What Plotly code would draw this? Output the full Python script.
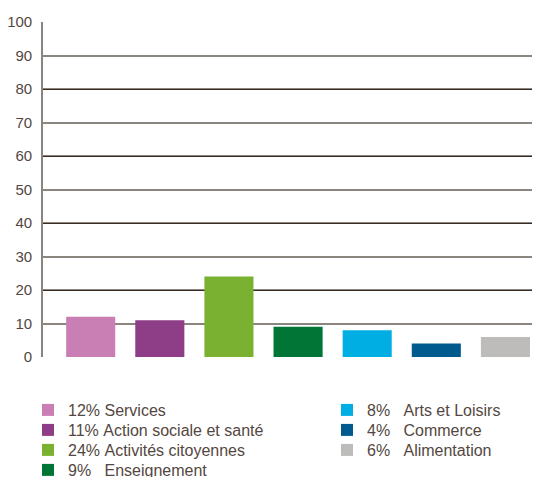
import plotly.graph_objects as go

categories = ["Services", "Action sociale et santé", "Activités citoyennes", "Enseignement",
              "Arts et Loisirs", "Commerce", "Alimentation"]
values = [12, 11, 24, 9, 8, 4, 6]
colors = ["#c97fb3", "#8e3d87", "#7ab131", "#007535", "#00aee4", "#005a8e", "#bdbcbb"]
y_ticks = list(range(0, 101, 10))

# the page body has an 8px default margin, so the figure is drawn 8px smaller
OFF = 8
W, H = 540 - OFF, 477 - OFF
NB = "\u00a0"
TEXT = "#54473f"

# legend layout: column (0 left, 1 right) and row of each entry
leg_col = [0, 0, 0, 0, 1, 1, 1]
leg_row = [0, 1, 2, 3, 0, 1, 2]
col_px = [28 - OFF, 327 - OFF]                  # legend box left (px)
row_px = [r - OFF for r in (410, 430, 450, 470)]  # row centres (px)


def label(v, name, col):
    pct = f"{v}%"
    if col == 0:
        gap = 1 if len(pct) == 3 else 3
    else:
        gap = 3
    return pct + NB * gap + name


legend_font = dict(family="Liberation Sans, Arial, sans-serif", size=16, color=TEXT)
tick_font = dict(family="Liberation Sans, Arial, sans-serif", size=15, color=TEXT)

fig = go.Figure()
legends = {}
for i, (c, v, col) in enumerate(zip(categories, values, colors)):
    lname = "legend" if i == 0 else f"legend{i + 1}"
    fig.add_trace(go.Bar(x=[c], y=[v], marker=dict(color=col, line=dict(width=0)),
                         name=label(v, c, leg_col[i]), legend=lname, hoverinfo="skip"))
    legends[lname] = dict(xref="container", yref="container",
                          x=col_px[leg_col[i]] / W, xanchor="left",
                          y=1 - row_px[leg_row[i]] / H, yanchor="middle",
                          font=legend_font, bgcolor="rgba(0,0,0,0)", borderwidth=0,
                          itemclick=False, itemdoubleclick=False)

# invisible trace for overlay axis carrying the dark gridlines
fig.add_trace(go.Scatter(x=[categories[0]], y=[0], yaxis="y2", mode="markers",
                         marker=dict(opacity=0), showlegend=False, hoverinfo="skip"))

fig.update_layout(
    width=W, height=H,
    margin=dict(l=43 - OFF, r=0, t=22 - OFF, b=120, autoexpand=False),
    paper_bgcolor="white", plot_bgcolor="white",
    barmode="relative", bargap=0.29,
    font=tick_font,
    showlegend=True,
    xaxis=dict(categoryorder="array", categoryarray=categories, range=[-0.69, 6.5],
               showticklabels=False, ticks="", showgrid=False, zeroline=False,
               showline=False, fixedrange=True),
    yaxis=dict(range=[0, 100], tickvals=y_ticks, showgrid=True, gridcolor="#8b8580",
               gridwidth=1.6, zeroline=False, showline=True, linecolor="#8b8580",
               linewidth=1.6, ticks="", ticklabelstandoff=6, tickfont=tick_font),
    yaxis2=dict(range=[0, 100], overlaying="y", tickvals=[0, 20, 40, 60, 80, 100],
                showgrid=True, gridcolor="#3a2a20", gridwidth=1.2, zeroline=False,
                showticklabels=False, showline=False, ticks=""),
    **legends,
)

fig.write_html("out.html")
